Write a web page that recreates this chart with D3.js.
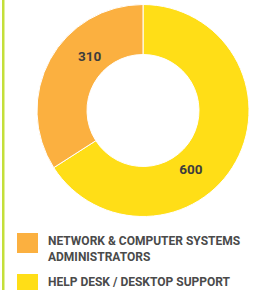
<!DOCTYPE html>
<html>
<head>
<meta charset="utf-8">
<script src="https://cdn.jsdelivr.net/npm/d3@7"></script>
<style>
  body { margin: 0; background: #fff; }
  svg { display: block; }
  .val { font-family: "Roboto", sans-serif; font-weight: bold; font-size: 13.5px; fill: #3d3d3d; }
  .leg { font-family: "Roboto", sans-serif; font-weight: bold; font-size: 12px; fill: #4a4a4a; }
</style>
</head>
<body>
<svg class="svgDonut" width="259" height="290"></svg>
<script>
// chart data
var categories = ["HELP DESK / DESKTOP SUPPORT", "NETWORK & COMPUTER SYSTEMS ADMINISTRATORS"];
var values = [600, 310];
var colors = ["#ffde17", "#fbb040"];

// legend is listed in the reverse order
var legendOrder = [1, 0];
var legendLines = [["NETWORK & COMPUTER SYSTEMS", "ADMINISTRATORS"], ["HELP DESK / DESKTOP SUPPORT"]];

var svg = d3.select("svg.svgDonut");

var cx = 143, cy = 110.5;
var outerR = 106, innerR = 56;

// green rule down the left side
svg.append("rect")
    .attr("x", 2)
    .attr("y", 0)
    .attr("width", 2.5)
    .attr("height", 290)
    .attr("fill", "#c4df3a");

var pie = d3.pie().sort(null).value(function(d) { return d; });
var arcs = pie(values);

var arc = d3.arc().innerRadius(innerR).outerRadius(outerR);

var g = svg.append("g")
    .attr("transform", "translate(" + cx + "," + cy + ")");

g.selectAll("path")
    .data(arcs)
    .enter().append("path")
    .attr("d", arc)
    .attr("fill", function(d, i) { return colors[i]; })
    .attr("stroke", "#fff")
    .attr("stroke-width", 1);

// value labels sit a little further round than the middle of each slice
var labelArc = d3.arc().innerRadius(76).outerRadius(76);
var shifts = [0.39, 0.29];
g.selectAll("text.val")
    .data(arcs)
    .enter().append("text")
    .attr("class", "val")
    .attr("text-anchor", "middle")
    .attr("dy", "0.36em")
    .attr("transform", function(d, i) {
        var c = labelArc.centroid({startAngle: d.startAngle + shifts[i], endAngle: d.endAngle + shifts[i]});
        return "translate(" + c[0] + "," + c[1] + ")";
    })
    .text(function(d) { return d.value; });

// legend
var legend = svg.append("g").attr("class", "legend");
var legY = [233, 274];

legendOrder.forEach(function(idx, k) {
    var row = legend.append("g")
        .attr("transform", "translate(17," + legY[k] + ")");
    row.append("rect")
        .attr("width", 21)
        .attr("height", 20)
        .attr("fill", colors[idx]);
    var t = row.append("text")
        .attr("class", "leg")
        .attr("x", 31)
        .attr("y", 12);
    legendLines[k].forEach(function(line, j) {
        t.append("tspan")
            .attr("x", 31)
            .attr("dy", j === 0 ? 0 : 16)
            .text(line);
    });
});
</script>
</body>
</html>
